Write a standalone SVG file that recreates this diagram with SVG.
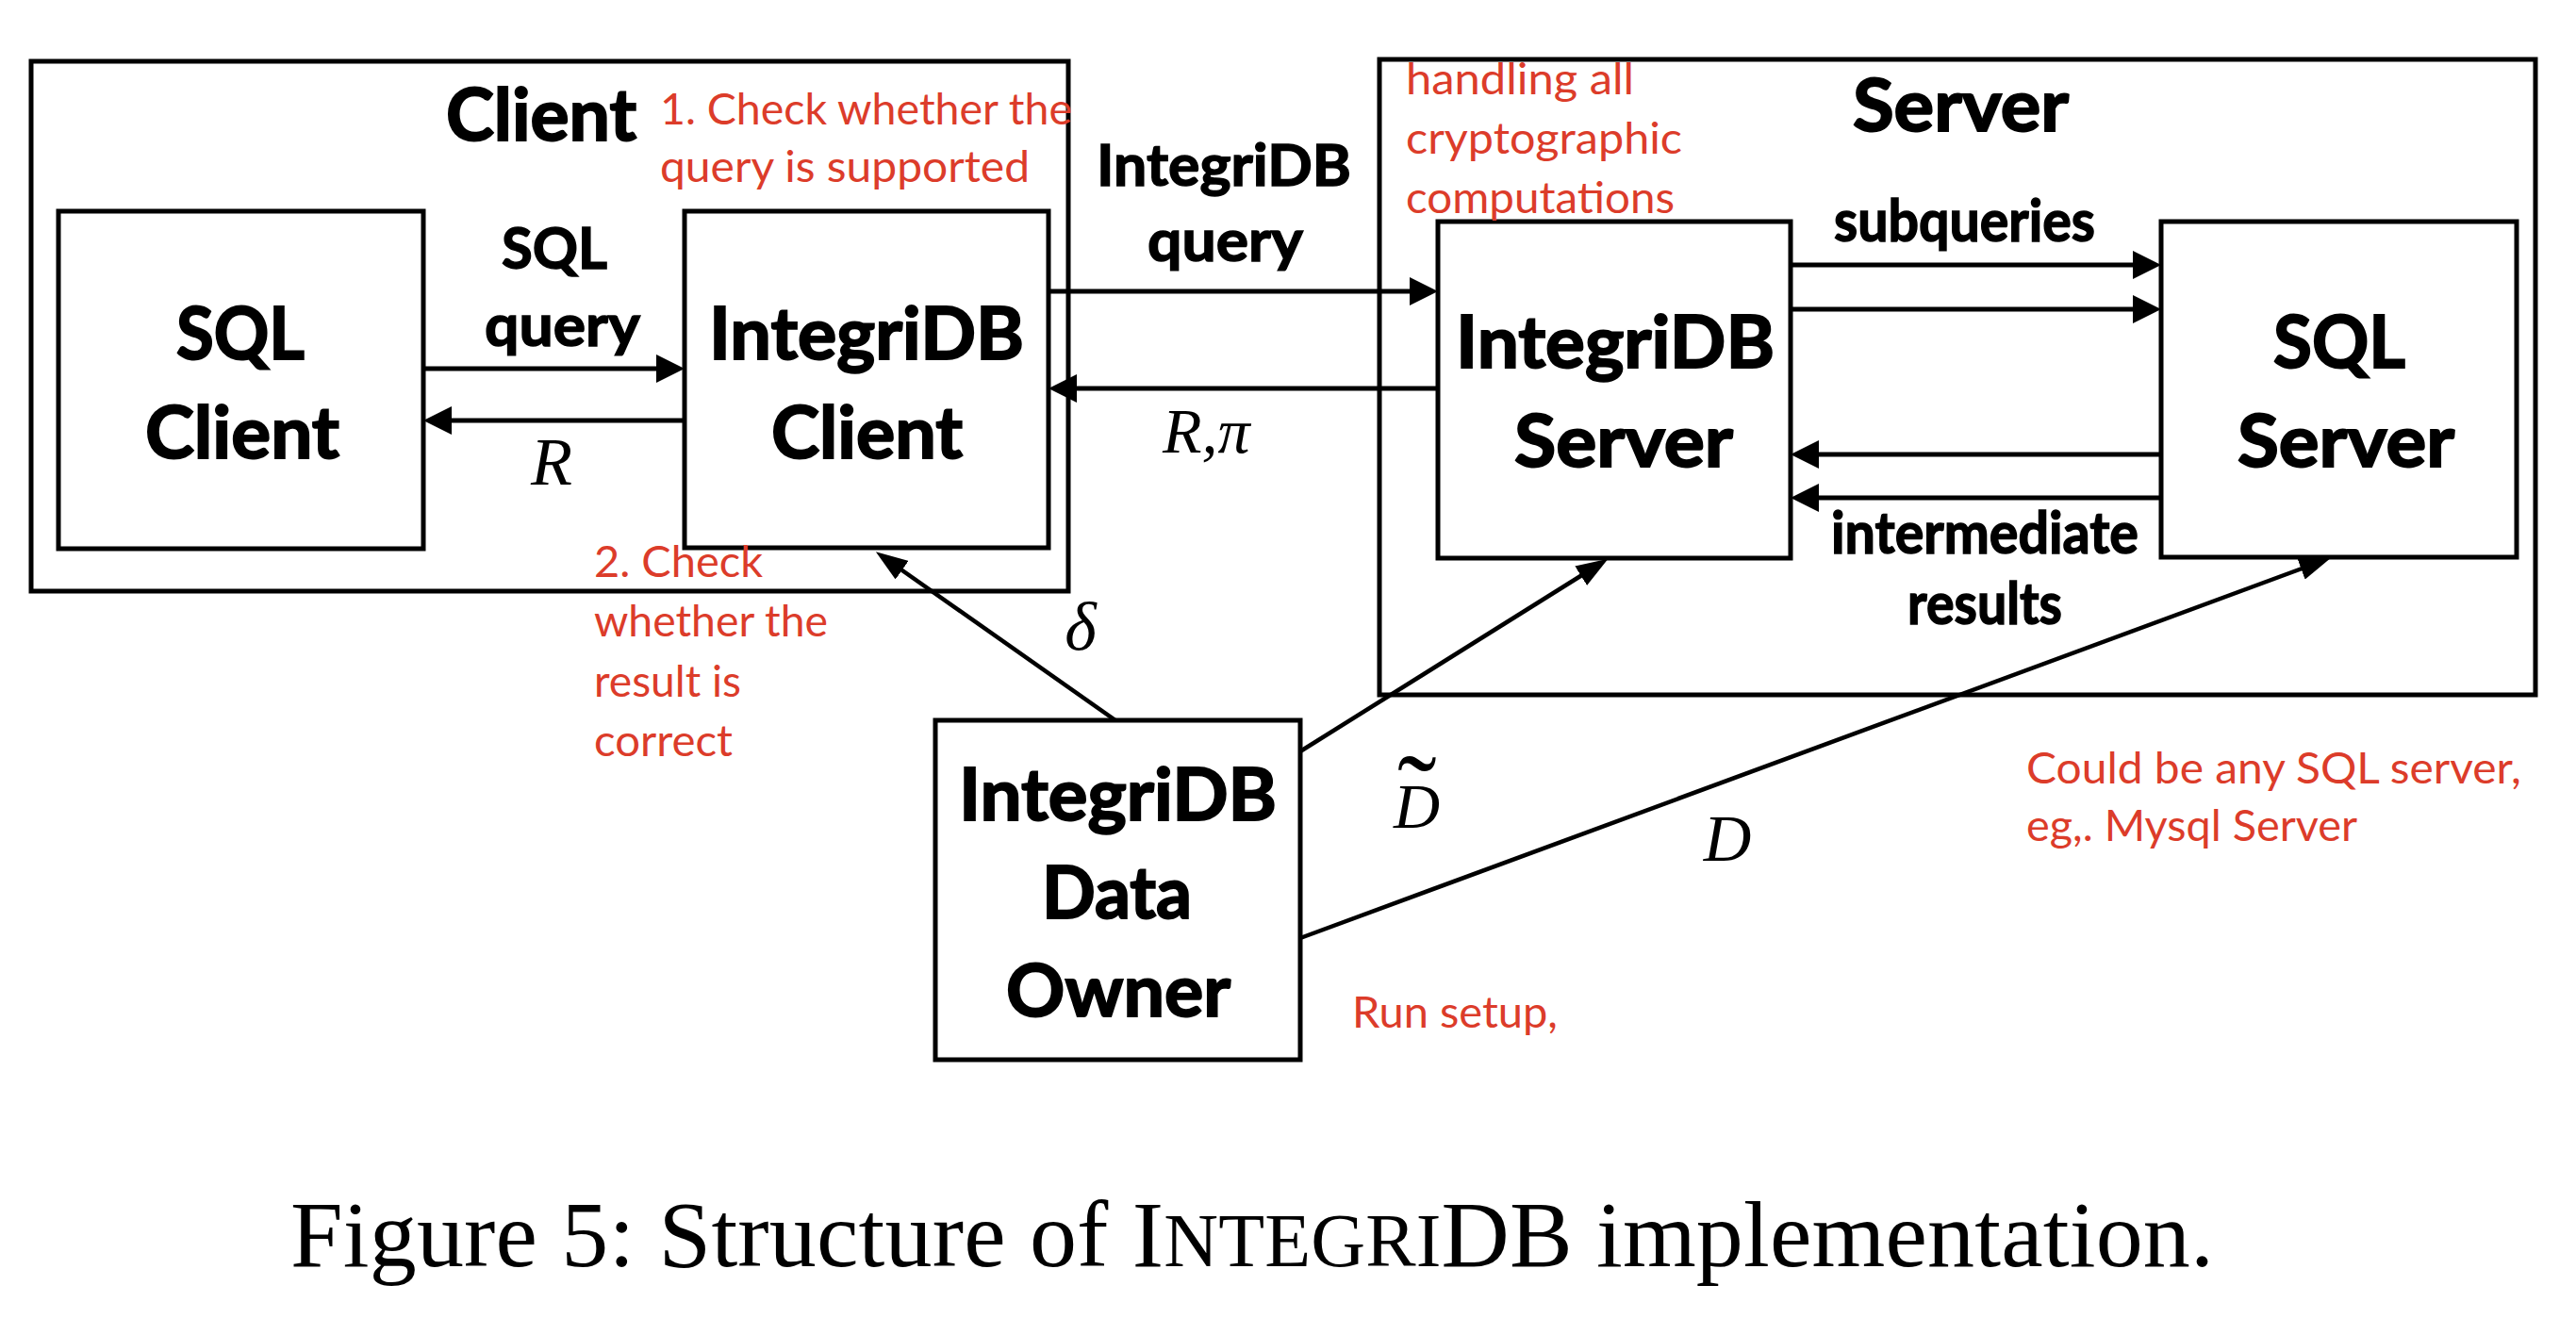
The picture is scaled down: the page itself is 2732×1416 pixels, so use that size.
<svg xmlns="http://www.w3.org/2000/svg" width="2732" height="1416" viewBox="0 0 2732 1416">
<style>
  .box { fill: none; stroke: #000; stroke-width: 5; }
  .node { fill: #fff; stroke: #000; stroke-width: 5; }
  .big { font-family: Lato, "Open Sans", sans-serif; font-weight: 700; font-size: 77px; fill: #000; stroke: #000; stroke-width: 2; }
  .mid { font-family: Lato, "Open Sans", sans-serif; font-weight: 700; font-size: 62px; fill: #000; stroke: #000; stroke-width: 1.5; }
  .red { font-family: Lato, "Noto Sans", sans-serif; font-weight: 400; font-size: 47px; fill: #DC3C2A; }
  .math { font-family: "Liberation Serif", "DejaVu Serif", serif; font-style: italic; fill: #000; }
  .cap { font-family: "Liberation Serif", "DejaVu Serif", serif; font-size: 100px; fill: #000; }
  .conn { stroke: #000; stroke-width: 5; fill: none; }
  .diag { stroke: #000; stroke-width: 4.5; fill: none; }
</style>
<defs>
  <marker id="arr" markerUnits="userSpaceOnUse" markerWidth="30" markerHeight="30" refX="20" refY="15" orient="auto">
    <path d="M0,0 L30,15 L0,30 z" fill="#000"/>
  </marker>
  <marker id="arrS" markerUnits="userSpaceOnUse" markerWidth="34" markerHeight="24" refX="24" refY="12" orient="auto">
    <path d="M0,0 L34,12 L0,24 z" fill="#000"/>
  </marker>
</defs>
<rect width="2732" height="1416" fill="#fff"/>

<g id="client-group">
  <rect class="box" x="33" y="65" width="1100" height="562"/>
  <text class="big" x="473" y="149" textLength="202" lengthAdjust="spacingAndGlyphs">Client</text>
</g>
<g id="server-group">
  <rect class="box" x="1463" y="63" width="1226" height="674"/>
  <text class="big" x="1965" y="139" textLength="229" lengthAdjust="spacingAndGlyphs">Server</text>
</g>

<g id="sql-client">
  <rect class="node" x="62" y="224" width="387" height="358"/>
  <text class="big" x="187" y="381" textLength="136" lengthAdjust="spacingAndGlyphs">SQL</text>
  <text class="big" x="154" y="486" textLength="206" lengthAdjust="spacingAndGlyphs">Client</text>
</g>
<g id="integridb-client">
  <rect class="node" x="726" y="224" width="386" height="357"/>
  <text class="big" x="752" y="381" textLength="334" lengthAdjust="spacingAndGlyphs">IntegriDB</text>
  <text class="big" x="818" y="486" textLength="203" lengthAdjust="spacingAndGlyphs">Client</text>
</g>
<g id="integridb-server">
  <rect class="node" x="1525" y="235" width="374" height="357"/>
  <text class="big" x="1544" y="390" textLength="338" lengthAdjust="spacingAndGlyphs">IntegriDB</text>
  <text class="big" x="1606" y="495" textLength="232" lengthAdjust="spacingAndGlyphs">Server</text>
</g>
<g id="sql-server">
  <rect class="node" x="2292" y="235" width="377" height="356"/>
  <text class="big" x="2411" y="390" textLength="140" lengthAdjust="spacingAndGlyphs">SQL</text>
  <text class="big" x="2373" y="495" textLength="230" lengthAdjust="spacingAndGlyphs">Server</text>
</g>
<g id="data-owner">
  <rect class="node" x="992" y="764" width="387" height="360"/>
  <text class="big" x="1017" y="870" textLength="337" lengthAdjust="spacingAndGlyphs">IntegriDB</text>
  <text class="big" x="1105" y="974" textLength="159" lengthAdjust="spacingAndGlyphs">Data</text>
  <text class="big" x="1067" y="1078" textLength="238" lengthAdjust="spacingAndGlyphs">Owner</text>
</g>

<g id="connectors">
  <line class="conn" x1="449" y1="391" x2="716" y2="391" marker-end="url(#arr)"/>
  <line class="conn" x1="726" y1="446" x2="459" y2="446" marker-end="url(#arr)"/>
  <line class="conn" x1="1112" y1="309" x2="1515" y2="309" marker-end="url(#arr)"/>
  <line class="conn" x1="1525" y1="412" x2="1122" y2="412" marker-end="url(#arr)"/>
  <line class="conn" x1="1899" y1="281" x2="2282" y2="281" marker-end="url(#arr)"/>
  <line class="conn" x1="1899" y1="328" x2="2282" y2="328" marker-end="url(#arr)"/>
  <line class="conn" x1="2292" y1="482" x2="1909" y2="482" marker-end="url(#arr)"/>
  <line class="conn" x1="2292" y1="528" x2="1909" y2="528" marker-end="url(#arr)"/>
  <line class="diag" x1="1183" y1="764" x2="937" y2="591" marker-end="url(#arrS)"/>
  <line class="diag" x1="1379" y1="797" x2="1697" y2="598" marker-end="url(#arrS)"/>
  <line class="diag" x1="1379" y1="995" x2="2463" y2="595" marker-end="url(#arrS)"/>
</g>

<g id="labels">
  <text class="mid" x="532" y="285" textLength="112" lengthAdjust="spacingAndGlyphs">SQL</text>
  <text class="mid" x="514" y="367" textLength="165" lengthAdjust="spacingAndGlyphs">query</text>
  <text class="math" x="585" y="514" font-size="72" text-anchor="middle">R</text>
  <text class="mid" x="1163" y="197" textLength="270" lengthAdjust="spacingAndGlyphs">IntegriDB</text>
  <text class="mid" x="1217" y="277" textLength="165" lengthAdjust="spacingAndGlyphs">query</text>
  <text class="math" x="1233" y="480" font-size="68">R,π</text>
  <text class="mid" x="1945" y="256" textLength="277" lengthAdjust="spacingAndGlyphs">subqueries</text>
  <text class="mid" x="1942" y="587" textLength="326" lengthAdjust="spacingAndGlyphs">intermediate</text>
  <text class="mid" x="2023" y="662" textLength="164" lengthAdjust="spacingAndGlyphs">results</text>
  <text class="math" x="1146" y="689" font-size="72" text-anchor="middle">δ</text>
  <text class="math" font-size="68"><tspan x="1478" y="878">D</tspan><tspan x="1482" y="886" font-size="125" font-style="normal">˜</tspan></text>
  <text class="math" x="1832" y="913" font-size="70" text-anchor="middle">D</text>
</g>

<g id="annotations">
  <text class="red" x="700" y="132" textLength="437" lengthAdjust="spacingAndGlyphs">1. Check whether the</text>
  <text class="red" x="700" y="193" textLength="392" lengthAdjust="spacingAndGlyphs">query is supported</text>
  <text class="red" x="1491" y="100" textLength="242" lengthAdjust="spacingAndGlyphs">handling all</text>
  <text class="red" x="1491" y="163" textLength="293" lengthAdjust="spacingAndGlyphs">cryptographic</text>
  <text class="red" x="1491" y="226" textLength="285" lengthAdjust="spacingAndGlyphs">computations</text>
  <text class="red" x="630" y="612" textLength="179" lengthAdjust="spacingAndGlyphs">2. Check</text>
  <text class="red" x="630" y="675" textLength="248" lengthAdjust="spacingAndGlyphs">whether the</text>
  <text class="red" x="630" y="739" textLength="156" lengthAdjust="spacingAndGlyphs">result is</text>
  <text class="red" x="630" y="802" textLength="147" lengthAdjust="spacingAndGlyphs">correct</text>
  <text class="red" x="1434" y="1090" textLength="218" lengthAdjust="spacingAndGlyphs">Run setup,</text>
  <text class="red" x="2149" y="831" textLength="525" lengthAdjust="spacingAndGlyphs">Could be any SQL server,</text>
  <text class="red" x="2149" y="892" textLength="351" lengthAdjust="spacingAndGlyphs">eg,. Mysql Server</text>
</g>

<text class="cap" x="308" y="1343" textLength="2040" lengthAdjust="spacing">Figure 5: Structure of I<tspan font-size="80">NTEGRI</tspan>DB implementation.</text>
</svg>
